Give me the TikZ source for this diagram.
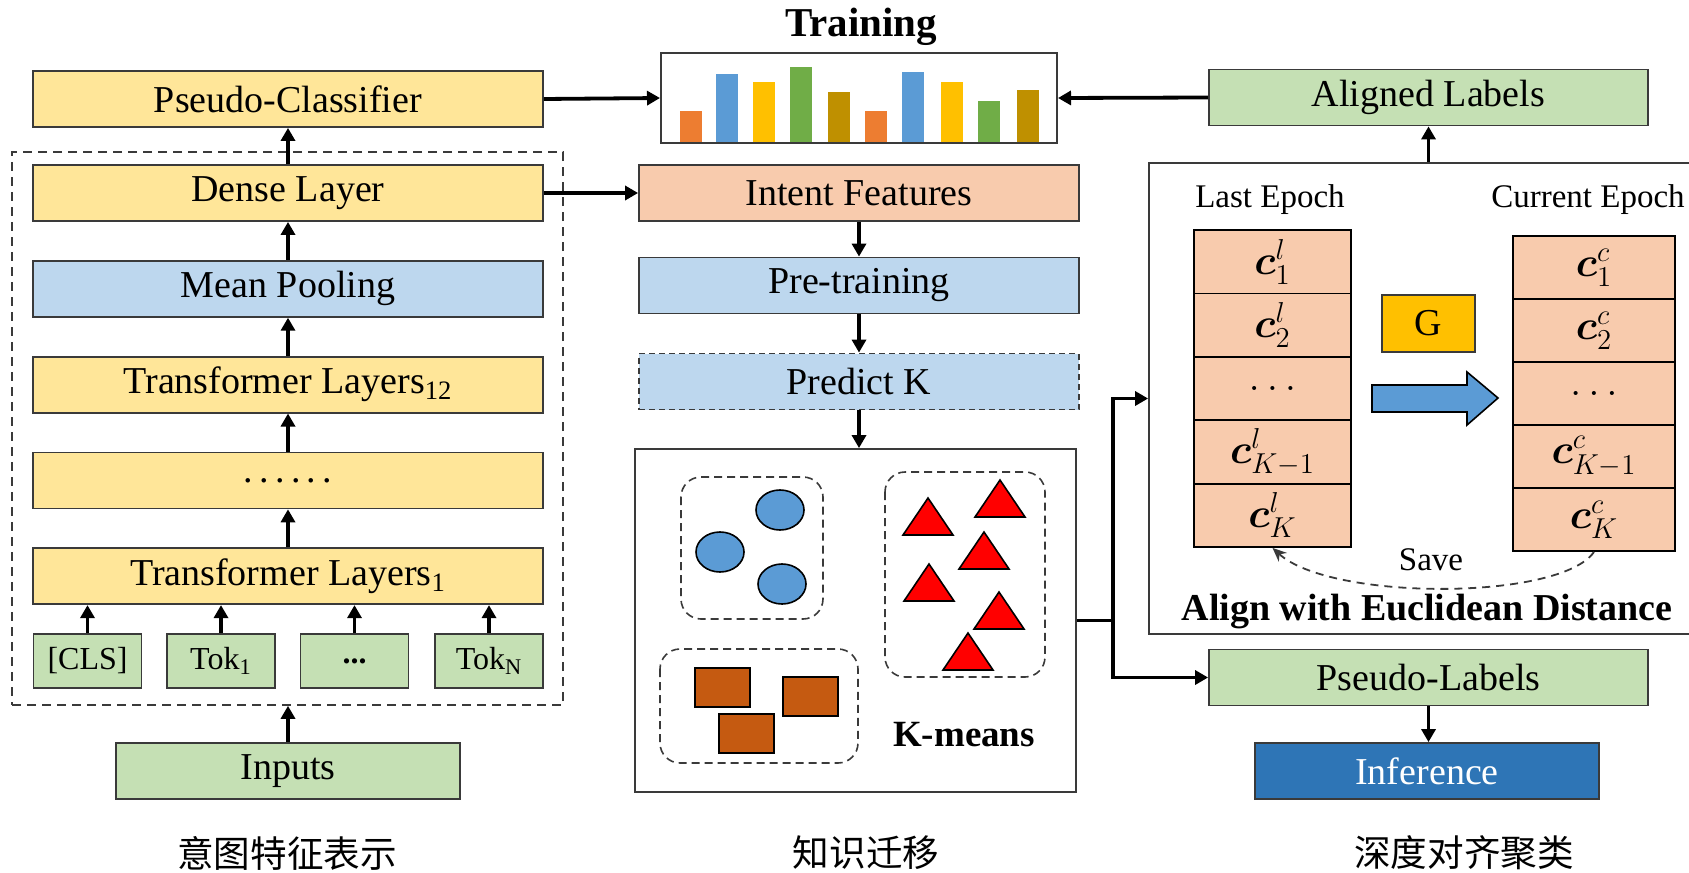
\documentclass[tikz,border=0pt]{standalone}
\usepackage{fontspec}
\usepackage{bm}
\usepackage{xcolor}
\setmainfont{Liberation Serif}
\newfontfamily\cjkfont{Noto Sans CJK SC}
\usetikzlibrary{arrows.meta, positioning}
\definecolor{amarillo}{HTML}{FFE699}
\definecolor{azulclaro}{HTML}{BDD7EE}
\definecolor{verde}{HTML}{C5E0B4}
\definecolor{salmon}{HTML}{F8CBAD}
\definecolor{borde}{HTML}{3A3A3A}
\definecolor{naranja}{HTML}{ED7D31}
\definecolor{azul}{HTML}{5B9BD5}
\definecolor{oro}{HTML}{FFC000}
\definecolor{verdeosc}{HTML}{70AD47}
\definecolor{ocre}{HTML}{BF9000}
\definecolor{marron}{HTML}{C55A11}
\definecolor{azulosc}{HTML}{2E75B6}
\newcommand{\txtnorm}{\fontsize{19}{22}\selectfont}
\newcommand{\txtsmall}{\fontsize{16.5}{19}\selectfont}
\tikzstyle{box} = [draw=borde, line width=0.9pt, inner sep=0pt,
minimum width=255pt, minimum height=28pt, font=\txtnorm]
\tikzstyle{tok} = [box, minimum width=54pt, minimum height=27pt, font=\fontsize{16}{19}\selectfont]
\tikzstyle{midbox} = [box, minimum width=220pt]
\tikzstyle{cell} = [draw=black, line width=0.9pt, fill=salmon, inner sep=0pt, font=\fontsize{21}{24}\selectfont]
\tikzstyle{cluster} = [draw=borde, line width=0.8pt, dash pattern=on 4pt off 2.5pt, rounded corners=10pt]
\tikzstyle{arrow} = [line width=1.9pt, -{Triangle[length=6.5pt,width=7pt]}]

\begin{document}
\begin{tikzpicture}[x=0.5pt, y=-0.5pt, node distance=19pt]
        \useasboundingbox (0,0) rectangle (1689,872);

        % Codificador
        \node[box, fill=amarillo] (pc) at (288,99) {Pseudo-Classifier};
        \node[box, fill=amarillo] (dense) at (288,193) {Dense Layer};
        \node[box, fill=azulclaro, below=of dense] (pool) {Mean Pooling};
        \node[box, fill=amarillo, below=of pool] (tl12) {Transformer Layers\textsubscript{12}};
        \node[box, fill=amarillo, below=of tl12] (dots) {.\,.\,.\,.\,.\,.};
        \node[box, fill=amarillo, below=of dots] (tl1) {Transformer Layers\textsubscript{1}};
        \node[tok, fill=verde] (cls) at (87.5,661) {[CLS]};
        \node[tok, fill=verde] (tok1) at (221,661) {Tok\textsubscript{1}};
        \node[tok, fill=verde] (tokd) at (354.5,661) {\textbf{...}};
        \node[tok, fill=verde] (tokn) at (489,661) {Tok\textsubscript{N}};
        \node[draw=borde, line width=0.8pt, dash pattern=on 4.5pt off 3pt, minimum width=275.5pt,
              minimum height=276.5pt] (enc) at (287.5,428.5) {};
        \node[box, fill=verde, minimum width=172pt] (inputs) at (288,771) {Inputs};

        % Entrenamiento
        \node[font=\bfseries\fontsize{20.5}{24}\selectfont] (train) at (861,27) {Training};
        \node[draw=borde, line width=1pt, minimum width=198pt, minimum height=45pt, inner sep=0pt] (chart) at (859,98) {};
        \foreach \x/\t/\col in {680/111/naranja, 716/74/azul, 753/82/oro, 790/67/verdeosc, 828/92/ocre,
                                865/111/naranja, 902/72/azul, 941/82/oro, 978/101/verdeosc, 1017/90/ocre}
            \fill[\col] (\x,142) rectangle (\x+22,\t);

        % Transferencia
        \node[midbox, fill=salmon] (feat) at (859,193) {Intent Features};
        \node[midbox, fill=azulclaro] (pre) at (859,285.5) {Pre-training};
        \node[midbox, fill=azulclaro, dash pattern=on 3pt off 2pt] (pk) at (859,381.5) {Predict K};
        \node[draw=borde, line width=0.9pt, minimum width=220.5pt, minimum height=171.5pt, inner sep=0pt] (kbox) at (855.5,620.5) {};
        \draw[cluster] (681,477) rectangle (823,619);
        \draw[cluster] (885,472) rectangle (1045,677);
        \draw[cluster] (660,649) rectangle (858,763);
        \foreach \x/\y in {780/510, 720/552, 782/584}
            \draw[fill=azul, line width=0.8pt] (\x,\y) ellipse [x radius=12pt, y radius=10pt];
        \foreach \x/\y in {928/498, 1000/480, 984/532, 929/564, 999/592, 968/633}
            \draw[fill=red, line width=0.8pt] (\x,\y) -- (\x-25,\y+37) -- (\x+25,\y+37) -- cycle;
        \foreach \x/\y in {695/668, 783/677, 719/714}
            \draw[fill=marron, line width=0.8pt] (\x,\y) rectangle (\x+55,\y+39);
        \node[font=\bfseries\fontsize{18.5}{22}\selectfont] (kmlbl) at (964,735) {K-means};

        % Alineamiento
        \node[box, fill=verde, minimum width=219.5pt] (al) at (1428.5,97.5) {Aligned Labels};
        \node[draw=borde, line width=0.9pt, minimum width=271.5pt, minimum height=235.5pt, inner sep=0pt] (alignbox) at (1420.5,398.5) {};
        \node[font=\txtsmall] (lastlbl) at (1270,200) {Last Epoch};
        \node[font=\txtsmall] (curlbl) at (1588,200) {Current Epoch};
        \foreach \i/\v in {1/{\bm{c}^{l}_{1}}, 2/{\bm{c}^{l}_{2}}, 3/{\dots}, 4/{\bm{c}^{l}_{K-1}}, 5/{\bm{c}^{l}_{K}}}
            \node[cell, minimum width=78.5pt, minimum height=31.7pt] (last\i) at (1272.5,{230+63.4*(\i-0.5)}) {$\v$};
        \foreach \i/\v in {1/{\bm{c}^{c}_{1}}, 2/{\bm{c}^{c}_{2}}, 3/{\dots}, 4/{\bm{c}^{c}_{K-1}}, 5/{\bm{c}^{c}_{K}}}
            \node[cell, minimum width=81pt, minimum height=31.5pt] (cur\i) at (1594,{236+63*(\i-0.5)}) {$\v$};
        \node[draw=borde, line width=0.9pt, fill=oro, minimum width=46.5pt, minimum height=28.5pt,
              inner sep=0pt, font=\txtnorm] (g) at (1428.5,323.5) {G};
        \draw[fill=azul, line width=0.8pt] (1372,385) -- (1467,385) -- (1467,372) -- (1498,398)
            -- (1467,425) -- (1467,412) -- (1372,412) -- cycle;
        \draw[draw=borde, line width=0.9pt, dash pattern=on 4pt off 3pt, -{Stealth[length=7pt,width=6pt]}]
            (cur5.south) .. controls +(-34,49) and +(58,53) .. (last5.south);
        \node[font=\txtsmall] (save) at (1431,560) {Save};
        \node[font=\bfseries\txtnorm] (aligntxt) at (1427,612) {Align with Euclidean Distance};
        \node[box, fill=verde, minimum width=219.5pt] (pl) at (1428.5,677.5) {Pseudo-Labels};
        \node[box, fill=azulosc, text=white, minimum width=172pt] (inf) at (1427,771) {Inference};

        % Etiquetas inferiores
        \node[font=\cjkfont\fontsize{18.3}{22}\selectfont] (lblrep) at (287,853) {意图特征表示};
        \node[font=\cjkfont\fontsize{18.3}{22}\selectfont] (lbltra) at (866,853) {知识迁移};
        \node[font=\cjkfont\fontsize{18.3}{22}\selectfont] (lblclu) at (1464,853) {深度对齐聚类};

        % Flechas
        \draw[arrow] (pc.east) -- (chart.west);
        \draw[arrow] (al.west) -- (chart.east);
        \draw[arrow] (dense.north) -- (pc.south);
        \draw[arrow] (dense.east) -- (feat.west);
        \foreach \a/\b in {tl1/dots, dots/tl12, tl12/pool, pool/dense}
            \draw[arrow] (\a.north) -- (\b.south);
        \foreach \t in {cls, tok1, tokd, tokn}
            \draw[arrow] (\t.north) -- (\t.north |- tl1.south);
        \draw[arrow] (inputs.north) -- (inputs.north |- enc.south);
        \foreach \a/\b in {feat/pre, pre/pk}
            \draw[arrow] (\a.south) -- (\b.north);
        \draw[arrow] (pk.south) -- (pk.south |- kbox.north);
        \coordinate (split) at (1113,620.5);
        \draw[line width=1.9pt] (kbox.east) -- (split);
        \draw[arrow] (split) |- (alignbox.west);
        \draw[arrow] (split) |- (pl.west);
        \draw[arrow] (alignbox.north -| al.south) -- (al.south);
        \draw[arrow] (pl.south) -- (pl.south |- inf.north);

    \end{tikzpicture}
\end{document}
